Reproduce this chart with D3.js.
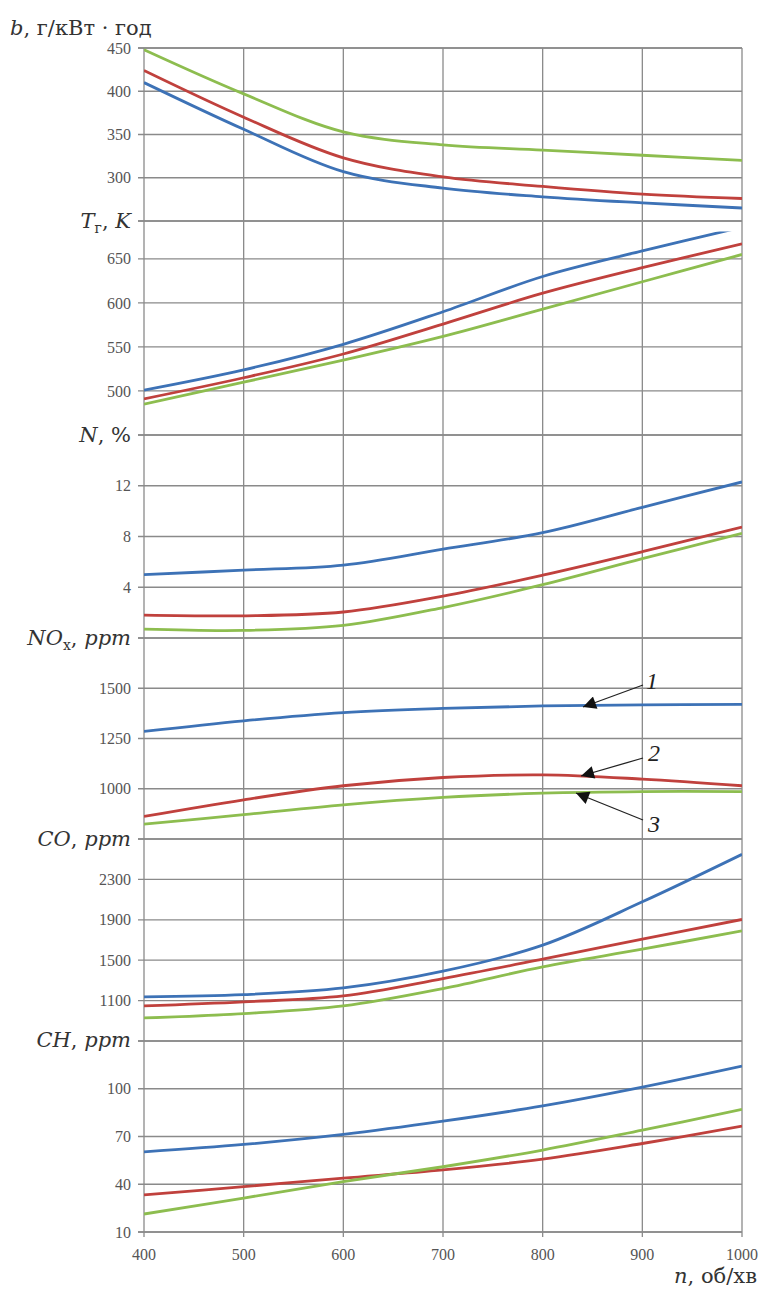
<!DOCTYPE html>
<html>
<head>
<meta charset="utf-8">
<script src="https://cdn.jsdelivr.net/npm/d3@7"></script>
<style>
  body { margin: 0; background: #fff; }
  text { font-family: "Liberation Serif", "DejaVu Serif", serif; }
</style>
</head>
<body>
<div id="chart"></div>
<script>
// shaft speed, об/хв
const n = [400, 500, 600, 700, 800, 900, 1000];

// specific fuel consumption b, г/кВт·год
const bBlue = [410, 356, 307, 288, 278, 271, 265];
const bRed = [424, 370, 323, 301, 290, 281, 276];
const bGreen = [448, 397, 353, 338, 332, 326, 320];

// exhaust temperature T, K
const tBlue = [501, 524, 553, 590, 630, 659, 686];
const tRed = [491, 515, 542, 576, 611, 640, 667];
const tGreen = [485, 510, 535, 562, 593, 624, 655];

// smoke N, %
const nBlue = [5.0, 5.35, 5.75, 7.0, 8.3, 10.3, 12.3];
const nRed = [1.8, 1.75, 2.05, 3.3, 4.95, 6.8, 8.75];
const nGreen = [0.7, 0.6, 1.0, 2.4, 4.2, 6.25, 8.25];

// NOx, ppm
const noxBlue = [1285, 1338, 1379, 1400, 1412, 1417, 1420];
const noxRed = [862, 945, 1015, 1056, 1069, 1048, 1015];
const noxGreen = [824, 871, 920, 957, 978, 986, 986];

// CO, ppm
const coBlue = [1136, 1159, 1225, 1391, 1649, 2078, 2548];
const coRed = [1047, 1087, 1146, 1318, 1510, 1708, 1903];
const coGreen = [928, 971, 1047, 1219, 1434, 1609, 1791];

// CH, ppm
const chBlue = [60.4, 65, 71.3, 79.6, 89.2, 101, 114.2];
const chRed = [33.3, 38.5, 43.8, 49, 55.8, 65.6, 76.5];
const chGreen = [21.3, 31.3, 41.7, 51, 61.5, 74, 87];

const bTicks = [300, 350, 400, 450];
const tTicks = [500, 550, 600, 650];
const nTicks = [4, 8, 12];
const noxTicks = [1000, 1250, 1500];
const coTicks = [1100, 1500, 1900, 2300];
const chTicks = [10, 40, 70, 100];
const xTicks = [400, 500, 600, 700, 800, 900, 1000];

const colors = ["#3d72b6", "#c0413d", "#8dbd4f"];

const svg = d3.select("#chart").append("svg")
    .attr("width", 760)
    .attr("height", 1290);

const x = d3.scaleLinear().domain([400, 1000]).range([144, 742]);

// panels from top to bottom; the boundary between two panels is a shared grid line
const panels = [
    {dom: [250, 450], rng: [221, 48], ticks: bTicks, series: [bBlue, bRed, bGreen]},
    {dom: [450, 693], rng: [435, 221], ticks: tTicks, series: [tBlue, tRed, tGreen], clipTop: 681},
    {dom: [0, 16], rng: [638, 435], ticks: nTicks, series: [nBlue, nRed, nGreen]},
    {dom: [750, 1750], rng: [839, 638], ticks: noxTicks, series: [noxBlue, noxRed, noxGreen]},
    {dom: [700, 2700], rng: [1041, 839], ticks: coTicks, series: [coBlue, coRed, coGreen]},
    {dom: [10, 130], rng: [1232, 1041], ticks: chTicks, series: [chBlue, chRed, chGreen]}
];

const grid = svg.append("g")
    .attr("stroke", "#8a8a8a")
    .attr("stroke-width", 1.3);

// vertical grid lines with little ticks under the bottom
xTicks.forEach(v => {
    grid.append("line")
        .attr("x1", x(v)).attr("x2", x(v))
        .attr("y1", 48).attr("y2", 1237);
});

panels.forEach((p, i) => {
    p.y = d3.scaleLinear().domain(p.dom).range(p.rng);
    let lines = p.ticks.concat([p.dom[0], p.dom[1]]);
    lines.forEach(v => {
        grid.append("line")
            .attr("x1", 138).attr("x2", 742)
            .attr("y1", p.y(v)).attr("y2", p.y(v));
    });

    svg.append("g")
        .selectAll("text")
        .data(p.ticks)
        .join("text")
        .attr("x", 131)
        .attr("y", d => p.y(d))
        .attr("dy", "0.35em")
        .attr("text-anchor", "end")
        .attr("font-size", 16)
        .attr("fill", "#555")
        .text(d => d);

    let top = p.clipTop ? p.y(p.clipTop) : p.rng[1];
    svg.append("clipPath").attr("id", "clip" + i)
        .append("rect")
        .attr("x", 144).attr("y", top)
        .attr("width", 598).attr("height", p.rng[0] - top);

    const line = d3.line()
        .x((d, k) => x(n[k]))
        .y(d => p.y(d))
        .curve(d3.curveCatmullRom.alpha(0.5));

    svg.append("g")
        .attr("clip-path", "url(#clip" + i + ")")
        .selectAll("path")
        .data(p.series)
        .join("path")
        .attr("fill", "none")
        .attr("stroke", (d, k) => colors[k])
        .attr("stroke-width", 2.8)
        .attr("d", line);
});

// x tick labels
svg.append("g")
    .selectAll("text")
    .data(xTicks)
    .join("text")
    .attr("x", d => x(d))
    .attr("y", 1254)
    .attr("dy", "0.35em")
    .attr("text-anchor", "middle")
    .attr("font-size", 16)
    .attr("fill", "#555")
    .text(d => d);

// axis titles
const titleFont = "'DejaVu Serif', serif";
function title(xx, yy, anchor, parts) {
    const t = svg.append("text")
        .attr("x", xx).attr("y", yy)
        .attr("text-anchor", anchor)
        .attr("font-size", 21)
        .attr("fill", "#333")
        .style("font-family", titleFont);
    parts.forEach(pt => {
        const s = t.append("tspan").text(pt[0]);
        if (pt[1] == "i") s.attr("font-style", "italic");
        if (pt[2] == "sub") s.attr("font-size", 14).attr("dy", 5);
        if (pt[2] == "up") s.attr("dy", -5);
    });
}

title(10, 35, "start", [["b", "i"], [", г/кВт · год"]]);
title(131, 228, "end", [["T", "i"], ["г", "", "sub"], [", ", "", "up"], ["K", "i"]]);
title(131, 442, "end", [["N", "i"], [", %"]]);
title(131, 645, "end", [["NO", "i"], ["x", "", "sub"], [", ", "", "up"], ["ppm", "i"]]);
title(131, 846, "end", [["CO", "i"], [", "], ["ppm", "i"]]);
title(131, 1047, "end", [["CH", "i"], [", "], ["ppm", "i"]]);
title(757, 1283, "end", [["n", "i"], [", об/хв"]]);

// curve labels with arrows
svg.append("defs").append("marker")
    .attr("id", "arrow")
    .attr("viewBox", "0 0 10 10")
    .attr("refX", 10).attr("refY", 5)
    .attr("markerWidth", 18).attr("markerHeight", 13)
    .attr("markerUnits", "userSpaceOnUse")
    .attr("orient", "auto")
    .append("path")
    .attr("d", "M0,0 L10,5 L0,10 Z")
    .attr("fill", "#111");

const callouts = [
    {label: "1", tx: 652, ty: 681, x1: 643, y1: 685, x2: 583, y2: 707},
    {label: "2", tx: 654, ty: 753, x1: 643, y1: 758, x2: 581, y2: 776},
    {label: "3", tx: 654, ty: 824, x1: 643, y1: 820, x2: 576, y2: 793}
];

callouts.forEach(c => {
    svg.append("line")
        .attr("x1", c.x1).attr("y1", c.y1)
        .attr("x2", c.x2).attr("y2", c.y2)
        .attr("stroke", "#222")
        .attr("stroke-width", 1.3)
        .attr("marker-end", "url(#arrow)");
    svg.append("text")
        .attr("x", c.tx).attr("y", c.ty)
        .attr("dy", "0.35em")
        .attr("text-anchor", "middle")
        .attr("font-size", 24)
        .attr("font-style", "italic")
        .attr("fill", "#222")
        .text(c.label);
});
</script>
</body>
</html>
